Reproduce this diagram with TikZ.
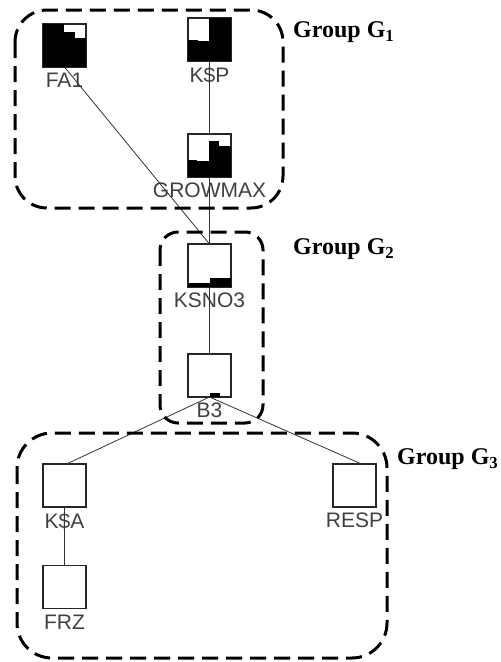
\documentclass[tikz,border=0pt]{standalone}
\usepackage{fontspec}
\setmainfont{Liberation Serif}
\newfontfamily\boxfont{Liberation Sans}
% black bars inside a box: x from, x to, white depth
\newcommand{\levels}[2]{%
  \foreach \a/\b/\h in {#2}
    \fill ([shift={(\a,\h)}]#1.north west) rectangle ([shift={(\b,43)}]#1.north west);}
\begin{document}
\begin{tikzpicture}[x=1pt, y=-1pt,
    var/.style={draw=black!85, line width=1.1pt, fill=white, minimum size=43pt, inner sep=0pt, outer sep=0pt},
    varname/.style={font=\boxfont\fontsize{21}{24}\selectfont, text=black!75, inner sep=0pt},
    link/.style={draw=black!80, line width=0.8pt},
    group/.style={draw=black, line width=3pt, dash pattern=on 16pt off 8pt},
    grouplabel/.style={font=\fontsize{24}{29}\selectfont\bfseries, anchor=west, inner sep=0pt}]
  \useasboundingbox (0,0) rectangle (501,662);
  % nodes
  \node[var, label={[varname, label distance=6pt]below:FA1}] (fa1) at (64.5, 45.5) {};
  \node[var, label={[varname, label distance=6pt]below:K\$P}] (ksp) at (209.5, 39.5) {};
  \node[var, label={[varname, label distance=6pt]below:GROWMAX}] (growmax) at (209.5, 155.5) {};
  \node[var, label={[varname, label distance=6pt]below:KSNO3}] (ksno3) at (209.5, 265.5) {};
  \node[var, label={[varname, label distance=6pt]below:B3}] (b3) at (209.5, 375.5) {};
  \node[var, label={[varname, label distance=6pt]below:K\$A}] (ksa) at (64.5, 485.5) {};
  \node[var, label={[varname, label distance=6pt]below:FRZ}] (frz) at (64.5, 587) {};
  \node[var, label={[varname, label distance=6pt]below:RESP}] (resp) at (354.5, 485.5) {};
  % levels
  \levels{fa1}{0/21/0, 21/32/8, 32/43/14}
  \levels{ksp}{0/10/22, 10/21/23, 21/43/0}
  \levels{growmax}{0/9/26, 9/21/27, 21/31/7, 31/43/12}
  \levels{ksno3}{0/22/39, 22/43/34}
  \levels{b3}{22/32/39}
  % lines
  \draw[link] (fa1.south) -- (ksno3.north);
  \draw[link] (ksp.south) -- (growmax.north);
  \draw[link] (growmax.south) -- (ksno3.north);
  \draw[link] (ksno3.south) -- (b3.north);
  \draw[link] (b3.south) -- ([xshift=2pt]ksa.north);
  \draw[link] (b3.south) -- ([xshift=7pt]resp.north);
  \draw[link] (ksa.south) -- (frz.north);
  % groups
  \draw[group, rounded corners=32pt] (15, 10) rectangle (283, 208);
  \draw[group, rounded corners=18pt] (160, 232) rectangle (263, 423);
  \draw[group, rounded corners=35pt] (17, 433) rectangle (387, 658);
  \node[grouplabel] (g1) at (293, 32) {Group G\textsubscript{1}};
  \node[grouplabel] (g2) at (293, 249) {Group G\textsubscript{2}};
  \node[grouplabel] (g3) at (397, 459) {Group G\textsubscript{3}};
\end{tikzpicture}
\end{document}
